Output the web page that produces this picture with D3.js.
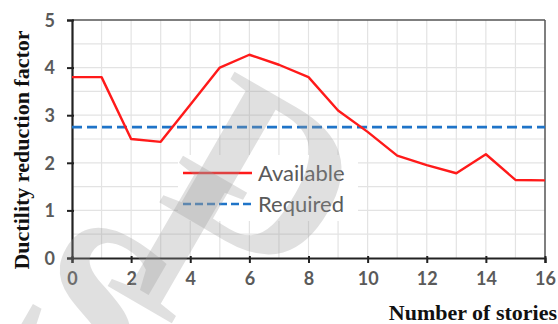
<!DOCTYPE html>
<html><head><meta charset="utf-8">
<script src="https://cdn.jsdelivr.net/npm/d3@7"></script>
<style>body{margin:0;background:#fff;} svg{display:block;}</style>
</head><body>
<svg id="c" width="558" height="324"></svg>
<script>
const stories = [0,1,2,3,4,5,6,7,8,9,10,11,12,13,14,15,16];
const available = [3.8,3.8,2.5,2.44,3.22,4.0,4.27,4.06,3.8,3.1,2.65,2.15,1.95,1.78,2.18,1.64,1.63];
const required = 2.75;
const xTicks = [0,2,4,6,8,10,12,14,16];
const yTicks = [0,1,2,3,4,5];
const seriesNames = ["Available","Required"];
const yTitle = "Ductility reduction factor";
const xTitle = "Number of stories";
const watermark = ["S","I","D"];

const svg = d3.select("#c");
const L=72,R=545,T=20,B=258;
const x = d3.scaleLinear().domain([0,16]).range([L,R]);
const y = d3.scaleLinear().domain([0,5]).range([B,T]);

// grid
const g = svg.append("g");
g.selectAll(".vg").data(d3.range(1,16)).join("line")
  .attr("x1",d=>x(d)).attr("x2",d=>x(d)).attr("y1",T).attr("y2",B)
  .attr("stroke","#e3e3e3").attr("stroke-width",1.2);
g.selectAll(".hg").data(d3.range(0.5,5,0.5)).join("line")
  .attr("y1",d=>y(d)).attr("y2",d=>y(d)).attr("x1",L).attr("x2",R)
  .attr("stroke","#e3e3e3").attr("stroke-width",1.2);

// frame top/right
svg.append("line").attr("x1",L).attr("x2",R).attr("y1",T).attr("y2",T).attr("stroke","#555").attr("stroke-width",1.5);
svg.append("line").attr("x1",R).attr("x2",R).attr("y1",T).attr("y2",B).attr("stroke","#555").attr("stroke-width",1.5);

// axes
const xa = svg.append("g").attr("transform",`translate(0,${B})`)
  .call(d3.axisBottom(x).tickValues(xTicks).tickFormat(d3.format("d")).tickSize(5).tickPadding(9));
const ya = svg.append("g").attr("transform",`translate(${L},0)`)
  .call(d3.axisLeft(y).tickValues(yTicks).tickFormat(d3.format("d")).tickSize(5).tickPadding(12));
[xa,ya].forEach(a=>{
  a.select(".domain").attr("stroke","#222").attr("stroke-width",2.2);
  a.selectAll(".tick line").attr("stroke","#222").attr("stroke-width",2);
  a.selectAll("text").attr("fill","#5a5a5a").style("font-family","Lato, 'Open Sans', sans-serif")
   .style("font-size","18px").style("font-weight","bold");
});
xa.selectAll(".tick line").attr("y1",-2);
ya.selectAll(".tick line").attr("x1",2).attr("x2",-5);
ya.selectAll("text").attr("dy","0.35em");

// required line
svg.append("line").attr("x1",L).attr("x2",R).attr("y1",y(required)).attr("y2",y(required))
  .attr("stroke","#1f74c8").attr("stroke-width",2.6).attr("stroke-dasharray","10,5");

// available
svg.append("path").datum(stories.map((s,i)=>[s,available[i]]))
  .attr("d",d3.line().x(d=>x(d[0])).y(d=>y(d[1])))
  .attr("fill","none").attr("stroke","#ff1a1a").attr("stroke-width",2.4).attr("stroke-linejoin","round");

// legend
const lg = svg.append("g");
lg.append("rect").attr("x",178).attr("y",155).attr("width",180).attr("height",66).attr("fill","#fff");
lg.append("line").attr("x1",183).attr("x2",252).attr("y1",173).attr("y2",173).attr("stroke","#ff1a1a").attr("stroke-width",2.4);
lg.append("line").attr("x1",183).attr("x2",252).attr("y1",204).attr("y2",204).attr("stroke","#1f74c8").attr("stroke-width",2.6).attr("stroke-dasharray","8,4");
lg.selectAll("text").data(seriesNames).join("text")
  .attr("x",258).attr("y",(d,i)=>[173,204][i]+8).text(d=>d)
  .attr("fill","#5a5a5a").style("font-family","Lato, 'Open Sans', sans-serif").style("font-size","22px");

// titles
svg.append("text").attr("transform","translate(29,150) rotate(-90)").attr("text-anchor","middle")
  .text(yTitle).style("font-family","'Liberation Serif', 'Times New Roman', serif").style("font-size","22px").style("font-weight","bold").attr("fill","#111");
svg.append("text").attr("x",557).attr("y",320).attr("text-anchor","end")
  .text(xTitle).style("font-family","'Liberation Serif', 'Times New Roman', serif").style("font-size","22px").style("font-weight","bold").attr("fill","#111");

// watermark
const wpos = [[95,300],[180,235],[268,172]];
svg.append("g").selectAll("text").data(watermark).join("text")
  .attr("transform",(d,i)=>`translate(${wpos[i][0]},${wpos[i][1]}) rotate(30)`)
  .attr("text-anchor","middle").attr("dy","0.35em").text(d=>d)
  .style("font-family","'Liberation Serif', serif").style("font-size","230px").style("font-weight","bold")
  .attr("fill","#9a9a9a").attr("opacity",0.3);
</script>
</body></html>
